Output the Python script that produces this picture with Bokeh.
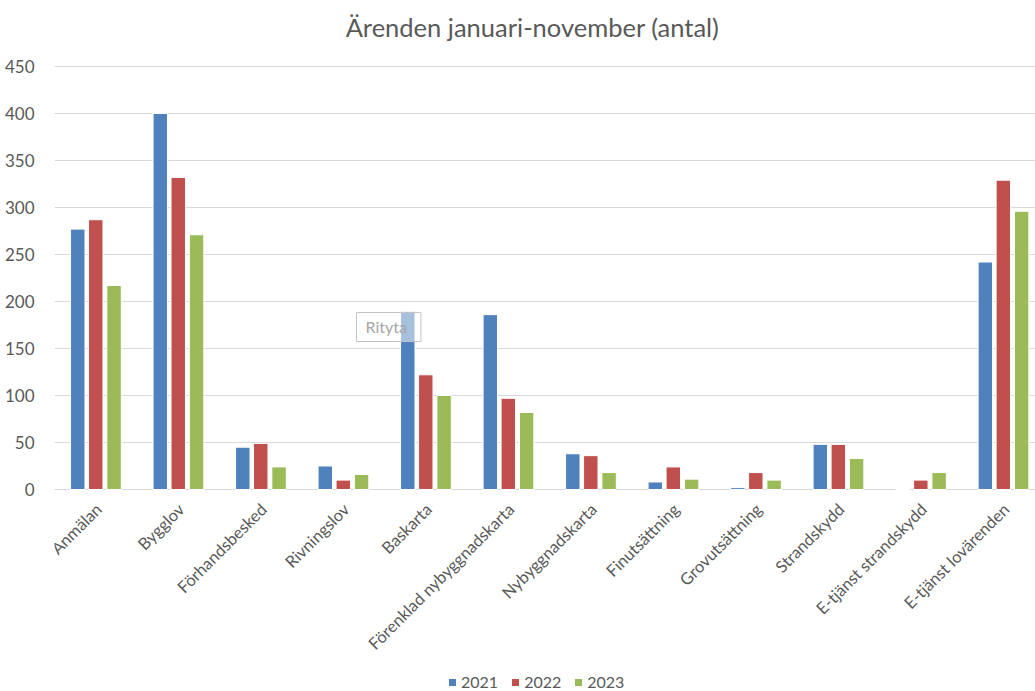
import math
from bokeh.plotting import figure
from bokeh.models import (ColumnDataSource, Range1d, FixedTicker,
                          Legend, LegendItem, Label)
from bokeh.core.properties import value
from bokeh.transform import dodge
from bokeh.embed import file_html
from bokeh.resources import INLINE

categories = ["Anmälan", "Bygglov", "Förhandsbesked", "Rivningslov", "Baskarta",
              "Förenklad nybyggnadskarta", "Nybyggnadskarta", "Finutsättning",
              "Grovutsättning", "Strandskydd", "E-tjänst strandskydd", "E-tjänst lovärenden"]
years = ["2021", "2022", "2023"]
v2021 = [277, 400, 45, 25, 189, 186, 38, 8, 2, 48, 0, 242]
v2022 = [287, 332, 49, 10, 122, 97, 36, 24, 18, 48, 10, 329]
v2023 = [217, 271, 24, 16, 100, 82, 18, 11, 10, 33, 18, 296]
y_ticks = [0, 50, 100, 150, 200, 250, 300, 350, 400, 450]
colors = ["#4F81BD", "#C0504D", "#9BBB59"]
title_text = "Ärenden januari-november (antal)"

FONT = "Lato"
GREY = "#595959"

n = len(categories)
src = ColumnDataSource(dict(x=list(range(n)), cat=categories, zero=[0] * n,
                            y2021=v2021, y2022=v2022, y2023=v2023))

# the frame fills the canvas vertically; gridlines only at the value ticks
p = figure(width=1035, height=691, x_range=Range1d(-0.5, 11.39), y_range=Range1d(-214.9, 520.2),
           output_backend="svg", toolbar_location=None, x_axis_location=None,
           min_border_left=54, min_border_right=0, min_border_top=0, min_border_bottom=0)
p.outline_line_color = None
p.background_fill_color = "white"
p.border_fill_color = "white"

offsets = [-0.218, 0.0, 0.222]
renderers = []
for yr, col, off in zip(years, colors, offsets):
    r = p.vbar(x=dodge("x", off), top="y" + yr, width=0.175, bottom=0, source=src,
               fill_color=col, line_color="white", line_width=1)
    renderers.append(r)

# rotated category labels below the zero line
p.text(x="x", y="zero", text="cat", source=src, angle=math.pi / 4,
       text_align="right", text_baseline="middle", x_offset=3, y_offset=17,
       text_font=value(FONT), text_font_size="16.5px", text_color=GREY)

p.yaxis.ticker = FixedTicker(ticks=y_ticks)
p.yaxis.major_tick_line_color = None
p.yaxis.minor_tick_line_color = None
p.yaxis.axis_line_color = None
p.yaxis.major_label_text_font = FONT
p.yaxis.major_label_text_font_size = "17px"
p.yaxis.major_label_text_color = GREY
p.yaxis.major_label_standoff = 14

p.xgrid.grid_line_color = None
p.ygrid.grid_line_color = "#d9d9d9"
p.ygrid.grid_line_width = 1

title = Label(x=5.294, y=492, text=title_text, text_align="center", text_baseline="middle",
              text_font=FONT, text_font_size="25.5px", text_color=GREY)
p.add_layout(title)

legend = Legend(items=[LegendItem(label=yr, renderers=[r]) for yr, r in zip(years, renderers)],
                orientation="horizontal", location=(393, 0),
                glyph_width=10, glyph_height=10, label_height=14, label_standoff=4,
                spacing=12, padding=0, margin=0,
                border_line_color=None, background_fill_alpha=0,
                label_text_font=FONT, label_text_font_size="16px", label_text_color=GREY)
p.add_layout(legend, "center")

tip = Label(x=3.16, y=188.3, text="Rityta", text_baseline="top", text_align="left",
            text_color="#a6a6a6", text_font=FONT, text_font_size="16px",
            background_fill_color="white", background_fill_alpha=0.5,
            border_line_color="#c4c4c4", border_line_width=1,
            padding=dict(left=9, right=14, top=5, bottom=5))
p.add_layout(tip)

open("out.html", "w").write(file_html(p, INLINE))
